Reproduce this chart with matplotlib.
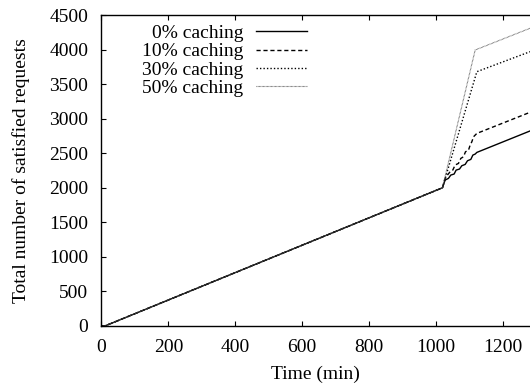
import matplotlib
matplotlib.use("Agg")
import matplotlib.pyplot as plt

plt.rcParams['font.family'] = ['Liberation Serif', 'DejaVu Serif']

# data (time in min, satisfied requests)
base_t = [0, 10, 1020]
base_y = [0, 0, 2000]

t_0 = base_t + [1028, 1038, 1045, 1055, 1061, 1071, 1078, 1088, 1095, 1105, 1111, 1118, 1123, 1282]
y_0 = base_y + [2112, 2136, 2184, 2199, 2256, 2271, 2319, 2338, 2391, 2411, 2473, 2488, 2512, 2822]

t_10 = base_t + [1028, 1035, 1043, 1051, 1058, 1068, 1075, 1083, 1089, 1098, 1103, 1108, 1113, 1123, 1282]
y_10 = base_y + [2136, 2184, 2232, 2256, 2329, 2353, 2425, 2449, 2521, 2545, 2618, 2666, 2738, 2787, 3092]

t_30 = base_t + [1123, 1282]
y_30 = base_y + [3680, 3969]

t_50 = base_t + [1118, 1282]
y_50 = base_y + [3994, 4308]

labels = ['0% caching', '10% caching', '30% caching', '50% caching']

fig = plt.figure(figsize=(5.30, 3.88), dpi=100)
ax = fig.add_axes([0.1915, 0.1598, 0.8085, 0.8015])

ax.plot(t_0, y_0, color='black', lw=1.0, ls='-', label=labels[0])
ax.plot(t_10, y_10, color='black', lw=1.0, ls=(0, (3, 2)), label=labels[1])
ax.plot(t_30, y_30, color='black', lw=1.0, ls=(0, (1, 1.5)), label=labels[2])
ax.plot(t_50, y_50, color='#555555', lw=0.8, ls=(0, (0.6, 0.6)), label=labels[3])

ax.set_xlim(0, 1282)
ax.set_ylim(0, 4500)
ax.set_xticks(range(0, 1201, 200))
ax.set_yticks(range(0, 4501, 500))
ax.tick_params(direction='in', length=3.5, top=True, right=False, labelsize=14, pad=9.5)
ax.spines['right'].set_visible(False)
for s in ['left', 'top', 'bottom']:
    ax.spines[s].set_linewidth(1.0)

ax.set_xlabel('Time (min)', fontsize=14, labelpad=7)
ax.set_ylabel('Total number of satisfied requests', fontsize=14, labelpad=13.5)

leg = ax.legend(loc='upper left', bbox_to_anchor=(0.0945, 0.969), frameon=False,
                markerfirst=False, fontsize=14, handlelength=2.6, handletextpad=0.67,
                labelspacing=0.03, borderpad=0, borderaxespad=0)
for col in leg._legend_box._children[1]._children:
    col.align = 'right'

fig.savefig('out.png', dpi=100)
